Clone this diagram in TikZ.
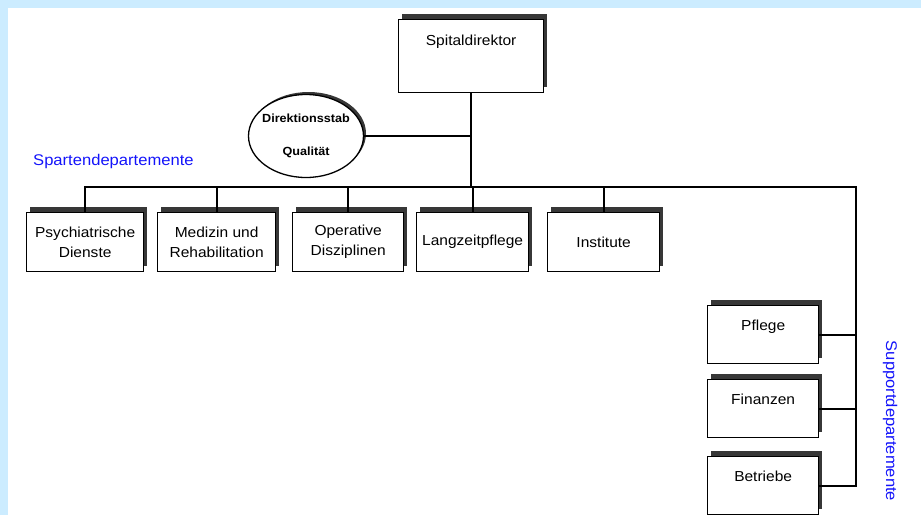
\documentclass[tikz,border=0pt]{standalone}
\usepackage{fontspec}
\setmainfont[FakeStretch=1.07]{Liberation Sans}
\usepackage{xcolor}
\usepackage{tikz}
\usetikzlibrary{positioning, shapes.geometric, shadows}
\definecolor{ocFrame}{RGB}{204, 236, 255}
\definecolor{ocBlue}{RGB}{20, 20, 250}
\definecolor{ocShade}{RGB}{55, 55, 55}
\tikzset{
    base/.style={
        font=\fontsize{14.5}{20}\selectfont,
        inner sep=0pt
    },
    shaded/.style={
        general shadow={fill=ocShade, shadow xshift=3.5pt, shadow yshift=5.5pt}
    },
    unitbox/.style={
        base,
        rectangle,
        draw=black,
        line width=1.3pt,
        fill=white,
        shaded,
        align=center,
        minimum height=59pt,
        anchor=north west
    },
    headbox/.style={
        base,
        rectangle,
        draw=black,
        line width=1.3pt,
        fill=white,
        shaded,
        anchor=north west
    },
    staff/.style={
        font=\fontsize{11.8}{14}\selectfont\bfseries,
        ellipse,
        draw=black,
        line width=1.3pt,
        fill=white,
        general shadow={fill=ocShade, shadow xshift=2.5pt, shadow yshift=2.5pt},
        align=center,
        inner sep=0pt,
        minimum width=115pt,
        minimum height=83pt
    },
    wire/.style={
        line width=2pt,
        color=black
    },
    deptlabel/.style={
        font=\fontsize{15.5}{20}\selectfont,
        inner sep=0pt,
        text=ocBlue
    }
}

\begin{document}
\begin{tikzpicture}[x=1pt, y=-1pt]
  \useasboundingbox (0,0) rectangle (921,515);
  \fill[ocFrame] (0,0) rectangle (921,8);
  \fill[ocFrame] (0,0) rectangle (8,515);

  % Leitung
  \node[headbox, minimum width=145pt, text height=25.5pt, text depth=47.5pt] (spital) at (398,19) {Spitaldirektor};
  \node[staff] (dstab) at (306,136) {\makebox[60pt]{Direktionsstab}\\[19pt]Qualität};

  % Spartendepartemente
  \node[unitbox, minimum width=117pt] (psych) at (26,212) {Psychiatrische\\Dienste};
  \node[unitbox, minimum width=118pt] (med) at (157,212) {Medizin und\\Rehabilitation};
  \node[unitbox, minimum width=111pt] (oper) at (292,212) {Operative\\Disziplinen};
  \node[unitbox, minimum width=112pt] (lang) at (416,212) {Langzeitpflege};
  \node[unitbox, minimum width=112pt] (inst) at (547,212) {Institute};

  % Supportdepartemente
  \node[headbox, minimum width=111pt, text height=24.5pt, text depth=33.5pt] (pflege) at (707,305) {Pflege};
  \node[headbox, minimum width=111pt, text height=24.5pt, text depth=33.5pt] (fin) at (707,379) {Finanzen};
  \node[headbox, minimum width=111pt, text height=24.5pt, text depth=33.5pt] (betr) at (707,456) {Betriebe};

  \node[deptlabel, anchor=west] (sparte) at (33,161) {Spartendepartemente};
  \node[deptlabel, rotate=-90] (support) at (890,421) {Supportdepartemente};

  % Verbindungen
  \coordinate (busR) at (856,187);
  \draw[wire] (spital.south) -- (spital.south |- busR);
  \draw[wire] (dstab.east) -- (dstab.east -| spital.south);
  \draw[wire] (psych.north) |- (busR) -- (betr.east -| busR) -- (betr.east);
  \foreach \n in {med, oper, lang, inst}
    \draw[wire] (\n.north) -- (\n.north |- busR);
  \foreach \n in {pflege, fin}
    \draw[wire] (\n.east) -- (\n.east -| busR);
\end{tikzpicture}
\end{document}
